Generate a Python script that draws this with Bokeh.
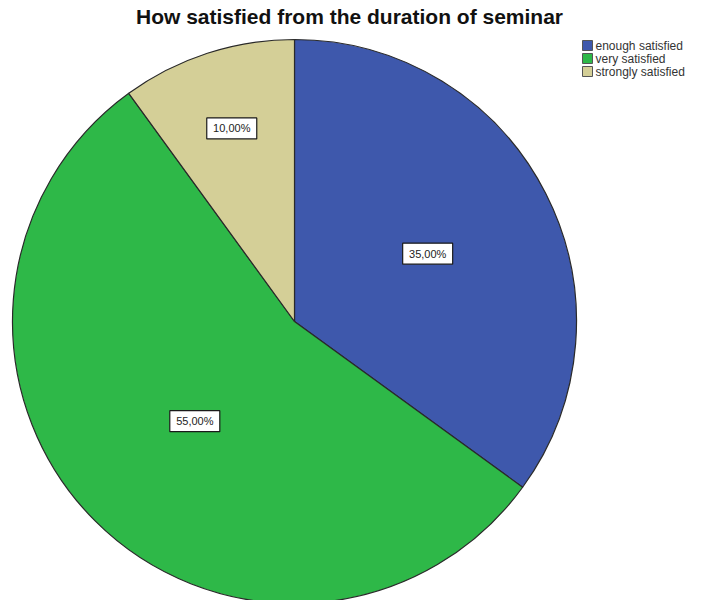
import math
from bokeh.plotting import figure
from bokeh.models import Range1d
from bokeh.core.properties import value
from bokeh.embed import file_html
from bokeh.resources import INLINE

# ---- data ----
categories = ["enough satisfied", "very satisfied", "strongly satisfied"]
percents = [35.0, 55.0, 10.0]
labels = ["35,00%", "55,00%", "10,00%"]
colors = ["#3E58AC", "#2EB848", "#D4CF97"]
title_text = "How satisfied from the duration of seminar"

# ---- layout (screen-like coordinates, y measured up from window bottom) ----
W, H = 701, 600
X0, Y0 = 0, 0
WIN_H = 600
cx, cy_screen, R = 294, 321, 282
cy = WIN_H - cy_screen
label_r_frac = [0.53, 0.50, 0.72]

p = figure(width=W, height=H, output_backend="svg", toolbar_location=None,
           x_range=Range1d(X0, X0 + W), y_range=Range1d(WIN_H - (Y0 + H), WIN_H - Y0),
           min_border=0)
p.axis.visible = False
p.grid.visible = False
p.outline_line_color = None
p.background_fill_color = "white"
p.border_fill_color = "white"

# wedges, clockwise from 12 o'clock
total = sum(percents)
start = math.pi / 2
starts, ends, mids = [], [], []
for v in percents:
    sweep = 2 * math.pi * v / total
    starts.append(start)
    ends.append(start - sweep)
    mids.append(start - sweep / 2)
    start -= sweep

p.wedge(x=[cx] * 3, y=[cy] * 3, radius=R, start_angle=starts, end_angle=ends,
        direction="clock", fill_color=colors, line_color="#2a2a2a", line_width=1.2)

# labels
lx = [cx + f * R * math.cos(m) for f, m in zip(label_r_frac, mids)]
ly = [cy + f * R * math.sin(m) for f, m in zip(label_r_frac, mids)]
p.rect(x=lx, y=ly, width=50, height=21, width_units="screen", height_units="screen",
       fill_color="white", line_color="#1a1a1a", line_width=1.2)
p.text(x=lx, y=ly, text=labels, text_align="center", text_baseline="middle",
       text_font=value("Liberation Sans"), text_font_size="11px", text_color="#222222")

# title
p.text(x=[349], y=[WIN_H - 16], text=[title_text], text_align="center",
       text_baseline="middle", text_font=value("Liberation Sans"),
       text_font_size="21px", text_font_style="bold", text_color="#111111")

# legend
leg_x, leg_y0, leg_dy = 587, 45, 13
leg_ys = [WIN_H - (leg_y0 + i * leg_dy) for i in range(len(categories))]
p.rect(x=[leg_x] * 3, y=leg_ys, width=10, height=10, width_units="screen",
       height_units="screen", fill_color=colors, line_color="#555555", line_width=1)
p.text(x=[leg_x + 8] * 3, y=leg_ys, text=categories, text_align="left",
       text_baseline="middle", text_font=value("Liberation Sans"),
       text_font_size="12px", text_color="#333333")

open("out.html", "w").write(file_html(p, INLINE))
